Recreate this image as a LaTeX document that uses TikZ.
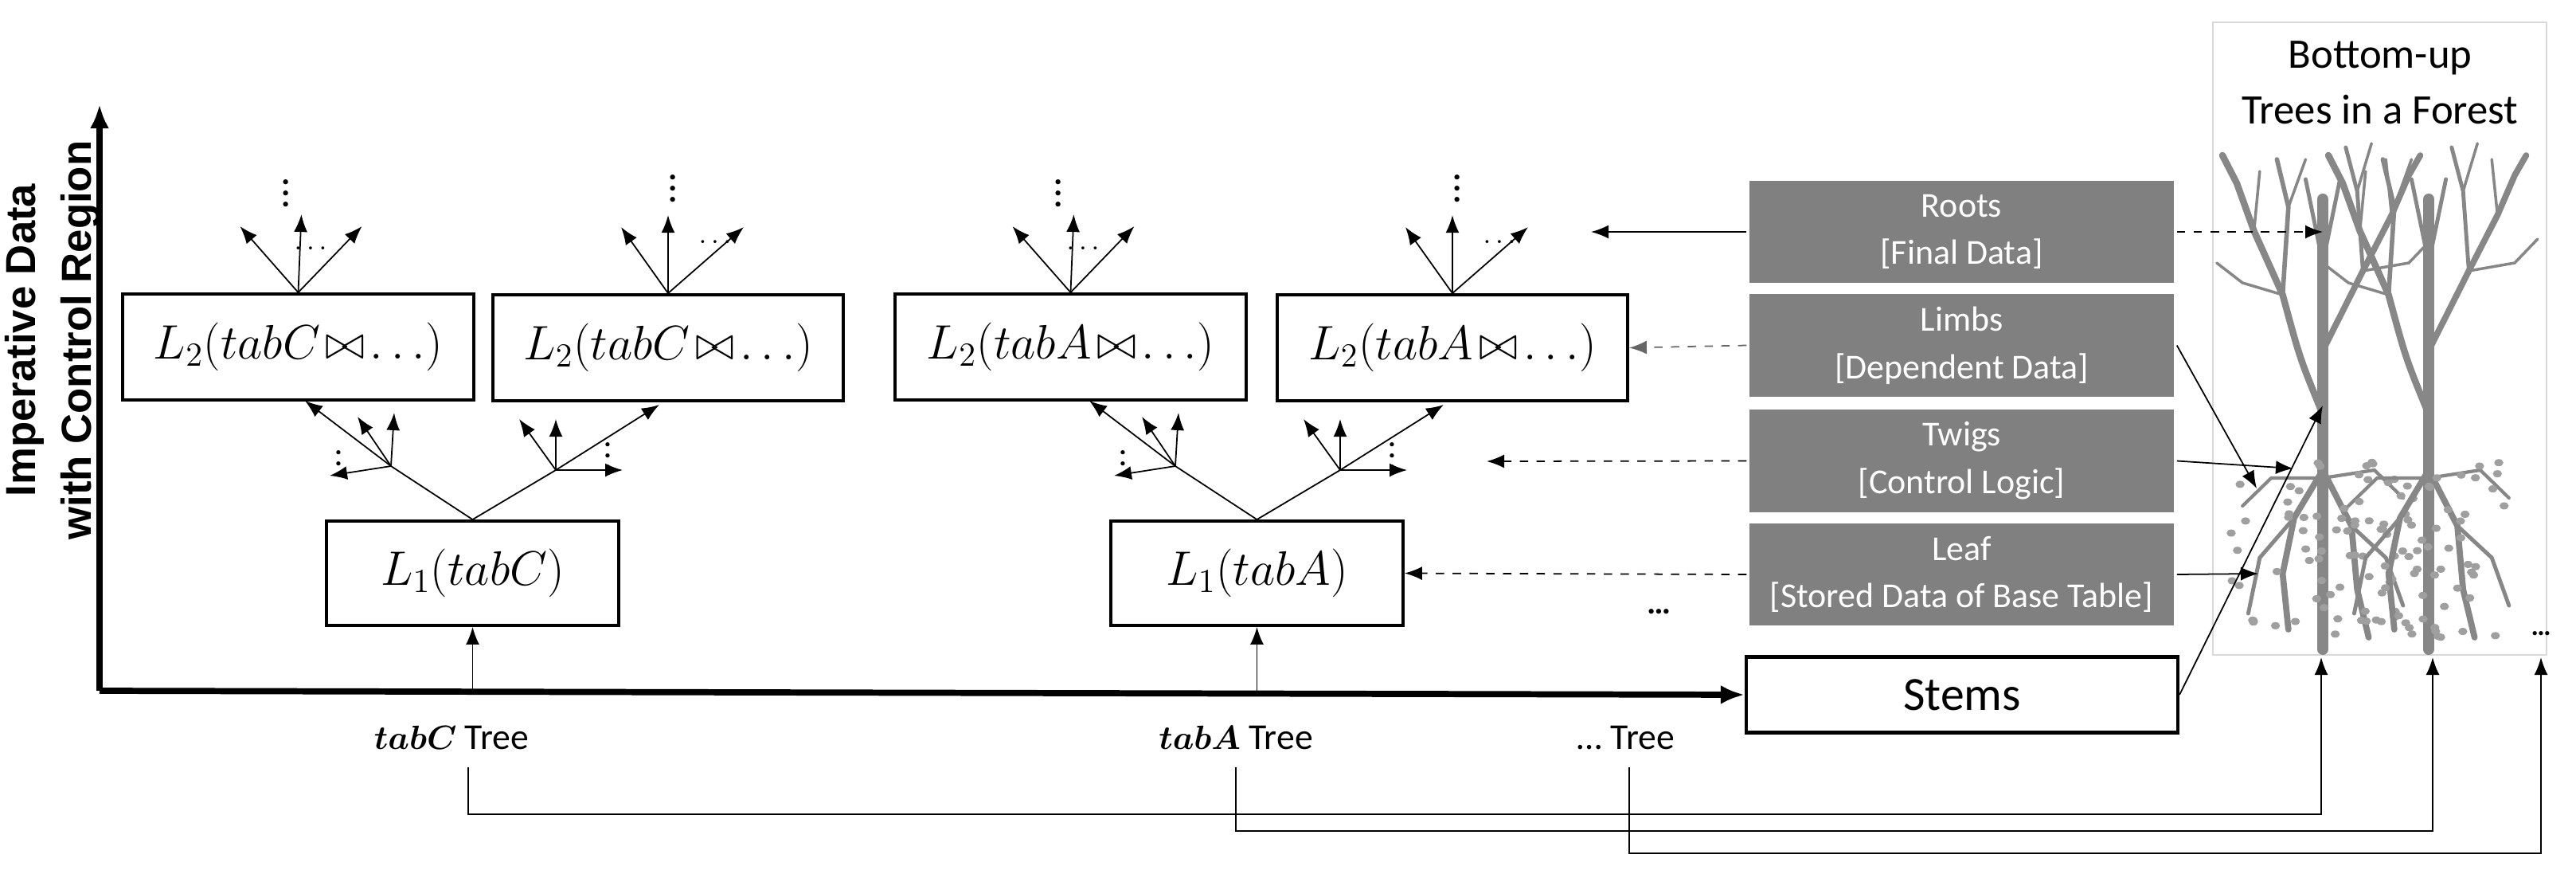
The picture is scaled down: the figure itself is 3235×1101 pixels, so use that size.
\documentclass[tikz,border=0pt]{standalone}
\usepackage{amsmath}
\usepackage{fontspec}
\setmainfont{Carlito}
\setsansfont{Liberation Sans}
\usetikzlibrary{arrows.meta,calc}
\definecolor{gbox}{RGB}{128,128,128}
\definecolor{treec}{RGB}{135,135,135}
\begin{document}
\begin{tikzpicture}[x=0.1mm,y=-0.1mm,
  box/.style={draw,line width=1.1pt,fill=white,inner sep=0pt,font=\fontsize{17}{20}\selectfont},
  gb/.style={fill=gbox,draw=white,line width=1pt,text=white,align=center,inner sep=0pt,minimum width=53.7mm,minimum height=13.2mm,font=\fontsize{12.5}{17}\selectfont},
  ar/.style={-{Latex[length=2.2mm,width=1.7mm]},line width=0.5pt},
  dar/.style={ar,dashed},
  axis/.style={line width=2.2pt,-{Latex[length=3mm,width=2.4mm]}},
  tree/.style={draw=treec,line cap=round},
  lbl/.style={font=\fontsize{13}{15}\selectfont},
  vd/.style={font=\bfseries\large,inner sep=0pt},
  hd/.style={font=\bfseries,inner sep=0pt}]
\useasboundingbox (0,0) rectangle (3235,1101);
% axes
\node[rotate=90,align=center,font=\sffamily\bfseries\fontsize{15}{20}\selectfont] (ylab) at (66,427) {Imperative Data\\with Control Region};
\coordinate (ytop) at (125,131);
\coordinate (orig) at (125,867);
\node[draw,line width=1.2pt,minimum width=54.2mm,minimum height=9.5mm,font=\fontsize{17}{20}\selectfont] (stems) at (2464,872) {Stems};
\draw[axis] (orig) -- (ytop);
\draw[axis] (orig) -- (stems.west);
% tree groups
\newcommand\tgroup[3]{%
\begin{scope}[xshift=#2]
 \node[box,minimum width=44.1mm,minimum height=13.3mm] (La#1) at (374.5,435.5) {$L_2(tab#1\!\bowtie\!\ldots)$};
 \draw[ar] (La#1.north) -- ++(-73,-83);
 \draw[ar] (La#1.north) -- ++(4,-98);
 \draw[ar] (La#1.north) -- ++(80,-83);
 \node[vd] at (359,232) {$\vdots$};
 \node[hd] at (390,312) {$\ldots$};
\end{scope}
\begin{scope}[xshift=#3]
 \node[box,minimum width=44mm,minimum height=13.3mm] (Lb#1) at (839,436.5) {$L_2(tab#1\!\bowtie\!\ldots)$};
 \draw[ar] (Lb#1.north) -- ++(-59,-83);
 \draw[ar] (Lb#1.north) -- ++(0,-98);
 \draw[ar] (Lb#1.north) -- ++(95,-83);
 \node[vd] at (845,226) {$\vdots$};
 \node[hd] at (898,304) {$\ldots$};
 \node[box,minimum width=36.7mm,minimum height=13.1mm] (L1#1) at (593.5,719.5) {$L_1(tab#1)$};
 \coordinate (jl#1) at (491,585);
 \coordinate (jr#1) at (698,590);
 \draw[line width=0.5pt] (L1#1.north) -- (jl#1);
 \draw[line width=0.5pt] (L1#1.north) -- (jr#1);
 \draw[ar] (jl#1) -- ++(-108,-82);
 \draw[ar] (jl#1) -- ++(-42,-62);
 \draw[ar] (jl#1) -- ++(4,-67);
 \draw[ar] (jl#1) -- ++(-77,12);
 \node[hd] at (425,572) {$\vdots$};
 \draw[ar] (jr#1) -- ++(130,-82);
 \draw[ar] (jr#1) -- ++(-46,-64);
 \draw[ar] (jr#1) -- ++(0,-64);
 \draw[ar] (jr#1) -- ++(84,0);
 \node[hd] at (763,562) {$\vdots$};
 \coordinate (ax#1) at (593.5,867);
 \draw[ar] (ax#1) -- (L1#1.south);
 \node[lbl] (t#1) at (567,926) {$\boldsymbol{tab#1}$ Tree};
\end{scope}}
\tgroup{C}{0mm}{0mm}
\tgroup{A}{97mm}{98.5mm}
\node[lbl] (tX) at (2042,926) {\ldots\ Tree};
\node[font=\bfseries\large] (dots1) at (2083,768) {\ldots};
% gray boxes
\node[gb] (roots) at (2463.5,291) {Roots\\{}[Final Data]};
\node[gb] (limbs) at (2463.5,433.5) {Limbs\\{}[Dependent Data]};
\node[gb] (twigs) at (2463.5,578.5) {Twigs\\{}[Control Logic]};
\node[gb] (leaf) at (2463.5,721) {Leaf\\{}[Stored Data of Base Table]};
\coordinate (rootsEnd) at (1998,291);
\coordinate (twigsEnd) at (1867,579);
\draw[ar] (roots.west) -- (rootsEnd);
\draw[dar,draw=gray!80!black] (limbs.west) -- (LbA.east);
\draw[dar] (twigs.west) -- (twigsEnd);
\draw[dar] (leaf.west) -- (L1A.east);
% forest panel
\draw[gray!30,line width=0.6pt] (2779,28) rectangle (3198,822);
\node[align=center,font=\fontsize{15}{20}\selectfont] (ftitle) at (2989,104) {Bottom-up\\Trees in a Forest};
\foreach \x/\s in {2917/3,3050/7}{
\begin{scope}[shift={(\x,0)},xscale=0.72]
 \draw[tree,line width=4pt] (0,815) -- (0,250);
 \draw[tree,line width=2.4pt] (0,520) .. controls (-40,450) .. (-70,370) -- (-120,290) -- (-150,230) -- (-175,195);
 \draw[tree,line width=1.6pt] (-70,370) -- (-60,260) -- (-80,200);
 \draw[tree,line width=1pt] (-60,260) -- (-30,200); \draw[tree,line width=1pt] (-120,290) -- (-110,215);
 \draw[tree,line width=1pt] (-70,370) -- (-140,355) -- (-185,330);
 \draw[tree,line width=2.2pt] (0,440) -- (70,340) -- (120,270) -- (150,220) -- (170,195);
 \draw[tree,line width=1.4pt] (70,340) -- (60,240) -- (40,185); \draw[tree,line width=1pt] (60,240) -- (85,180);
 \draw[tree,line width=1pt] (120,270) -- (110,200); \draw[tree,line width=1pt] (70,340) -- (150,330) -- (190,300);
 \draw[tree,line width=1.4pt] (0,330) -- (-30,225); \draw[tree,line width=1.4pt] (0,330) -- (30,225);
 \draw[tree,line width=2.2pt] (0,590) -- (-50,650) -- (-70,720) -- (-60,790);
 \draw[tree,line width=1.4pt] (-50,650) -- (-110,700) -- (-130,770);
 \draw[tree,line width=2.2pt] (0,590) -- (50,660) -- (60,740) -- (80,800);
 \draw[tree,line width=1.4pt] (50,660) -- (110,700) -- (140,760);
 \draw[tree,line width=1.2pt] (0,600) -- (-90,600) -- (-140,635);
 \draw[tree,line width=1.2pt] (0,600) -- (90,590) -- (140,625);
 \pgfmathsetseed{\s}
 \foreach \i in {1,...,60}{
  \pgfmathsetmacro\lx{rand*160}
  \pgfmathsetmacro\ly{690+rand*110}
  \fill[treec!80] (\lx,\ly) ellipse (8 and 4.5);
 }
\end{scope}}
\node[font=\bfseries] (dots2) at (3191,795) {\ldots};
\coordinate (f1) at (2915,825);
\coordinate (f2) at (3055,825);
\coordinate (f3) at (3191,825);
\coordinate (e1) at (2917,291);
\coordinate (e2) at (2834,613);
\coordinate (e3) at (2880,588);
\coordinate (e4) at (2836,720);
\coordinate (e5) at (2917,509);
\draw[dar] (roots.east) -- (e1);
\draw[ar] (limbs.east) -- (e2);
\draw[ar] (twigs.east) -- (e3);
\draw[ar] (leaf.east) -- (e4);
\draw[ar] (stems.east) -- (e5);
% bottom connectors
\draw[ar] ($(tC.south)+(21,10)$) |- (588,1022) -| (f1);
\draw[ar] ($(tA.south)+(0,10)$) |- (1578,1043) -| (f2);
\draw[ar] ($(tX.south)+(4,10)$) |- (2046,1071) -| (f3);
\end{tikzpicture}
\end{document}
